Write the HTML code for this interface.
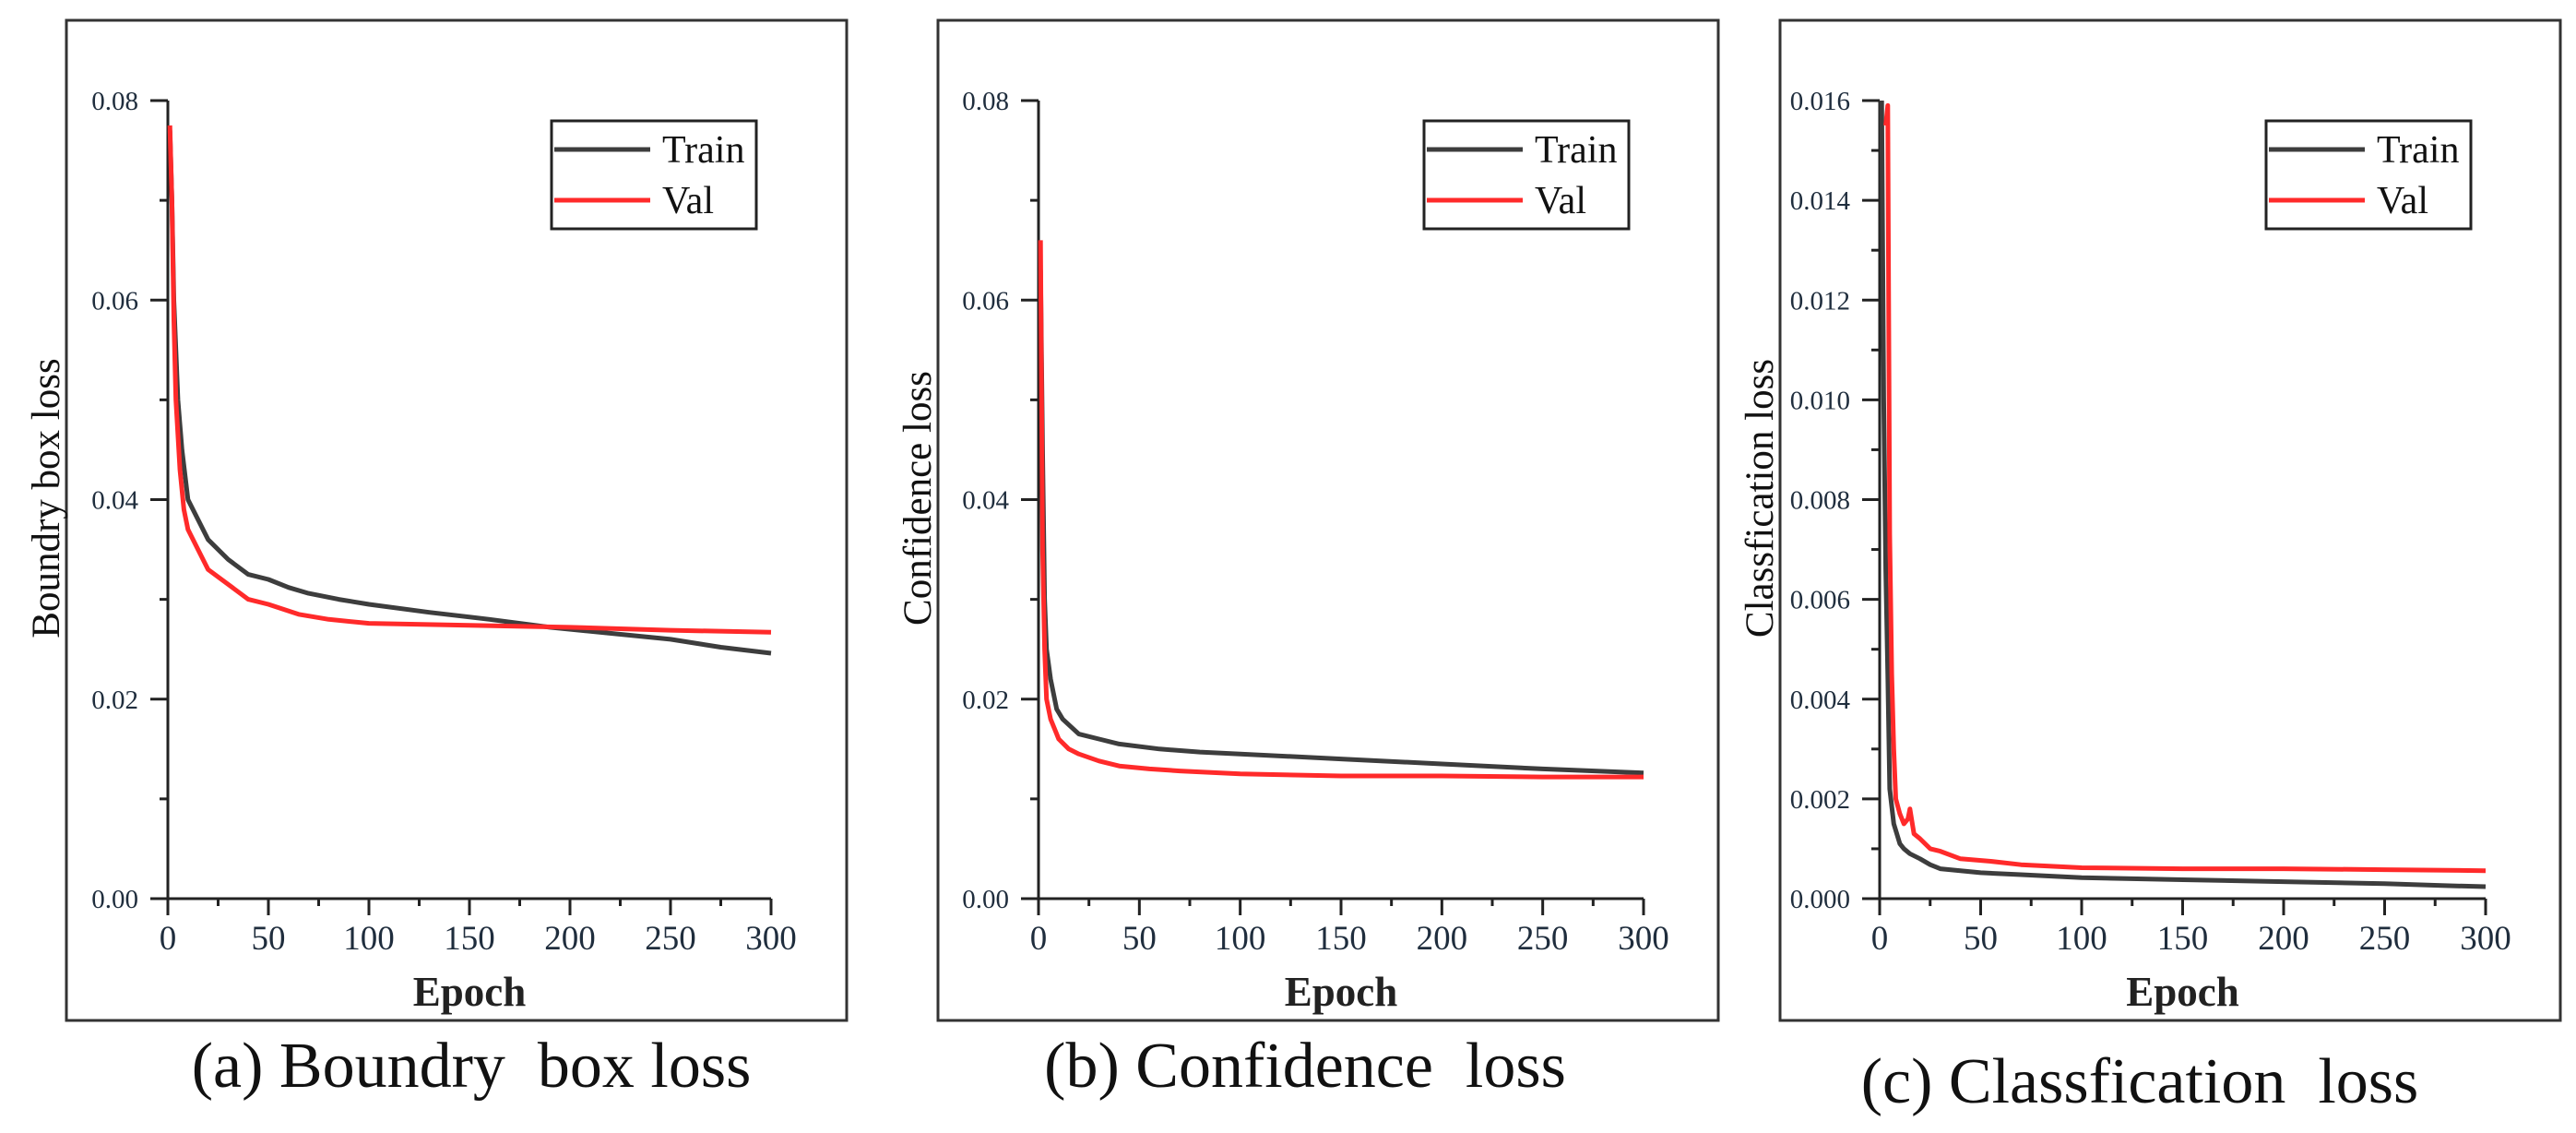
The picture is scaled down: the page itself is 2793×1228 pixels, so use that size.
<!DOCTYPE html>
<html><head><meta charset="utf-8"><style>
html,body{margin:0;padding:0;background:#fff;}
svg{display:block;}
</style></head><body>
<svg id="fig" width="2793" height="1228" viewBox="0 0 2793 1228" xmlns="http://www.w3.org/2000/svg"></svg>
<script>
// Panel (a) Boundry box loss
const epochsA = [1,2,3,5,7,10,15,20,30,40,50,60,70,85,100,130,160,190,220,250,275,300];
const trainA = [0.077,0.070,0.060,0.050,0.045,0.040,0.038,0.036,0.034,0.0325,0.032,0.0312,0.0306,0.030,0.0295,0.0287,0.028,0.0272,0.0266,0.026,0.0252,0.0246];
const epochsAv = [1,2,3,4,6,8,10,15,20,30,40,50,65,80,100,150,200,250,300];
const valA = [0.0775,0.070,0.058,0.050,0.043,0.039,0.037,0.035,0.033,0.0315,0.030,0.0295,0.0285,0.028,0.0276,0.0274,0.0272,0.0269,0.0267];
// Panel (b) Confidence loss
const epochsB = [1,2,3,4,6,9,12,20,30,40,60,80,100,150,200,250,300];
const trainB = [0.063,0.045,0.030,0.025,0.022,0.019,0.018,0.0165,0.016,0.0155,0.015,0.0147,0.0145,0.014,0.0135,0.013,0.0126];
const epochsBv = [1,2,3,4,6,10,15,20,30,40,55,70,100,150,200,250,300];
const valB = [0.066,0.035,0.025,0.020,0.018,0.016,0.015,0.0145,0.0138,0.0133,0.013,0.0128,0.0125,0.0123,0.0123,0.0122,0.0122];
// Panel (c) Classfication loss
const epochsC = [1,2,3,4,5,7,10,12,15,20,25,30,40,50,70,100,150,200,250,280,300];
const trainC = [0.016,0.010,0.0066,0.0045,0.0022,0.0015,0.0011,0.001,0.0009,0.0008,0.00068,0.0006,0.00056,0.00052,0.00048,0.00042,0.00038,0.00034,0.0003,0.00026,0.00024];
const epochsCv = [3,4,5,6,7,8,10,12,14,15,17,20,25,30,40,55,70,100,150,200,250,300];
const valC = [0.0155,0.0159,0.0073,0.0045,0.003,0.002,0.0017,0.0015,0.0016,0.0018,0.0013,0.0012,0.001,0.00095,0.0008,0.00075,0.00068,0.00062,0.0006,0.0006,0.00058,0.00056];
const xTicks = [0,50,100,150,200,250,300];
const yTicksA = ["0.00","0.02","0.04","0.06","0.08"];
const yTicksC = ["0.000","0.002","0.004","0.006","0.008","0.010","0.012","0.014","0.016"];

const NS = "http://www.w3.org/2000/svg";
const svg = document.getElementById('fig');
function mk(tag, attrs, parent){
  const e = document.createElementNS(NS, tag);
  for (const k in attrs) e.setAttribute(k, attrs[k]);
  (parent||svg).appendChild(e);
  return e;
}
const panels = [
  {id:'a', frame:[72,22,918,1106], ax:182, axR:836, yTop:109, yBot:974, ymax:0.08, yTicks:yTicksA, ylabel:'Boundry box loss',
   tx:epochsA, ty:trainA, vx:epochsAv, vy:valA, caption:'(a) Boundry\u00a0\u00a0box loss', capX:511, capY:1178},
  {id:'b', frame:[1017,22,1863,1106], ax:1126, axR:1782, yTop:109, yBot:974, ymax:0.08, yTicks:yTicksA, ylabel:'Confidence loss',
   tx:epochsB, ty:trainB, vx:epochsBv, vy:valB, caption:'(b) Confidence\u00a0\u00a0loss', capX:1415, capY:1178},
  {id:'c', frame:[1930,22,2776,1106], ax:2038, axR:2695, yTop:109, yBot:974, ymax:0.016, yTicks:yTicksC, ylabel:'Classfication loss',
   tx:epochsC, ty:trainC, vx:epochsCv, vy:valC, caption:'(c) Classfication\u00a0\u00a0loss', capX:2320, capY:1195}
];
panels.forEach(p => {
  const g = mk('g', {});
  
  
  const fr = mk('rect', {x:p.frame[0], y:p.frame[1], width:p.frame[2]-p.frame[0], height:p.frame[3]-p.frame[1], fill:'none', stroke:'#333', 'stroke-width':3}, g);
  
  
  const xs = v => p.ax + (v/300)*(p.axR - p.ax);
  const ys = v => p.yBot - (v/p.ymax)*(p.yBot - p.yTop);
  // axes
  const yAx = mk('line', {x1:p.ax, y1:p.yTop, x2:p.ax, y2:p.yBot, stroke:'#222', 'stroke-width':3}, g);
  
  
  const xAx = mk('line', {x1:p.ax-19, y1:p.yBot, x2:p.axR, y2:p.yBot, stroke:'#222', 'stroke-width':3}, g);
  
  
  // y ticks
  const nY = p.yTicks.length;
  for (let i=0;i<nY;i++){
    const v = parseFloat(p.yTicks[i]);
    const y = ys(v);
    mk('line', {x1:p.ax-19, y1:y, x2:p.ax, y2:y, stroke:'#222', 'stroke-width':3}, g);
    const t = mk('text', {x:p.ax-32, y:y+10, 'text-anchor':'end', 'font-family':'Liberation Serif, serif', 'font-size':29, fill:'#1f2d3d'}, g);
    t.textContent = p.yTicks[i];
    
    
    if (i < nY-1){
      const vm = (v + parseFloat(p.yTicks[i+1]))/2;
      mk('line', {x1:p.ax-9, y1:ys(vm), x2:p.ax, y2:ys(vm), stroke:'#222', 'stroke-width':3}, g);
    }
  }
  // x ticks
  xTicks.forEach((v,i) => {
    const x = xs(v);
    mk('line', {x1:x, y1:p.yBot, x2:x, y2:p.yBot+18, stroke:'#222', 'stroke-width':3}, g);
    const t = mk('text', {x:x, y:1029, 'text-anchor':'middle', 'font-family':'Liberation Serif, serif', 'font-size':37, fill:'#1f2d3d'}, g);
    t.textContent = v;
    
    
    if (i < xTicks.length-1){
      const xm = xs(v+25);
      mk('line', {x1:xm, y1:p.yBot, x2:xm, y2:p.yBot+8, stroke:'#222', 'stroke-width':3}, g);
    }
  });
  // axis titles
  const xl = mk('text', {x:(p.ax+p.axR)/2, y:1090, 'text-anchor':'middle', 'font-family':'Liberation Serif, serif', 'font-size':45, 'font-weight':'bold', fill:'#222'}, g);
  xl.textContent = 'Epoch';
  
  
  const bx = p.frame[0]-8;
  const yl = mk('text', {x:bx, y:540, transform:'rotate(-90 '+bx+' 540)', 'text-anchor':'middle', 'font-family':'Liberation Serif, serif', 'font-size':43, fill:'#111'}, g);
  yl.textContent = p.ylabel;
  
  
  // series
  const path = (xa, ya) => xa.map((e,i)=>(i?'L':'M')+xs(e).toFixed(1)+' '+ys(ya[i]).toFixed(1)).join(' ');
  const tr = mk('path', {d:path(p.tx,p.ty), fill:'none', stroke:'#3d3d3d', 'stroke-width':5, 'stroke-linejoin':'round'}, g);
  
  
  const va = mk('path', {d:path(p.vx,p.vy), fill:'none', stroke:'#ff2a2a', 'stroke-width':5, 'stroke-linejoin':'round'}, g);
  
  
  // legend
  const lx = p.axR - 238, ly = 131;
  const lg = mk('g', {}, g);
  
  
  mk('rect', {x:lx, y:ly, width:222, height:117, fill:'#fff', stroke:'#222', 'stroke-width':3}, lg);
  mk('line', {x1:lx+3, y1:ly+31, x2:lx+107, y2:ly+31, stroke:'#3d3d3d', 'stroke-width':5}, lg);
  mk('line', {x1:lx+3, y1:ly+86, x2:lx+107, y2:ly+86, stroke:'#ff2a2a', 'stroke-width':5}, lg);
  const t1 = mk('text', {x:lx+120, y:ly+45, 'font-family':'Liberation Serif, serif', 'font-size':42, fill:'#111'}, lg);
  t1.textContent = 'Train';
  
  
  const t2 = mk('text', {x:lx+120, y:ly+100, 'font-family':'Liberation Serif, serif', 'font-size':42, fill:'#111'}, lg);
  t2.textContent = 'Val';
  
  
  // caption
  const cap = mk('text', {x:p.capX, y:p.capY, 'text-anchor':'middle', 'font-family':'Liberation Serif, serif', 'font-size':70, fill:'#111'}, g);
  cap.textContent = p.caption;
  
  
});
</script>
</body></html>
